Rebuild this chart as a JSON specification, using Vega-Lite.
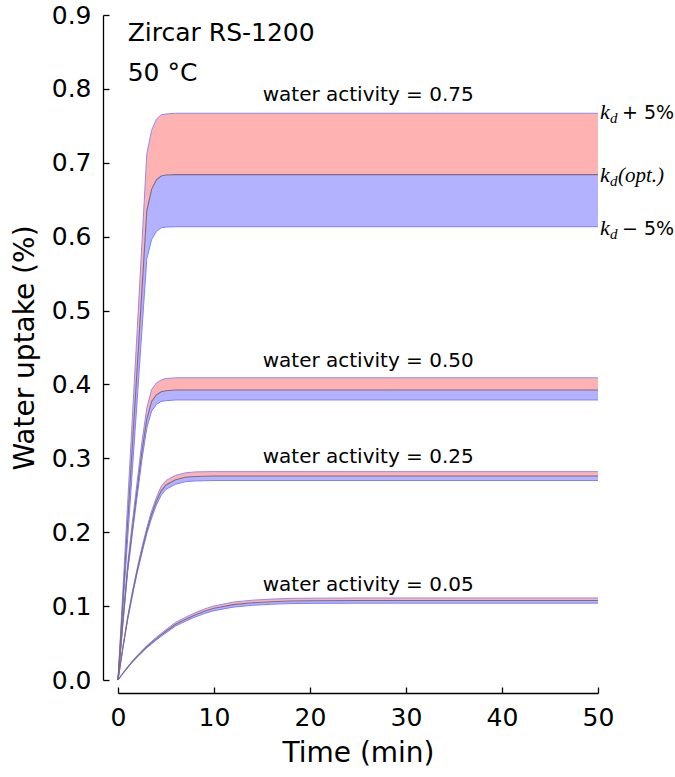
{
  "$schema": "https://vega.github.io/schema/vega-lite/v6.json",
  "width": 480,
  "height": 665,
  "autosize": {"type": "none"},
  "padding": {"left": 118, "top": 15, "right": 77, "bottom": 97},
  "background": "white",
  "datasets": {
    "curves": [
      {"aw": "0.75", "t": 0, "lo": 0, "opt": 0, "hi": 0},
      {"aw": "0.75", "t": 0.5, "lo": 0.095, "opt": 0.106, "hi": 0.119},
      {"aw": "0.75", "t": 1, "lo": 0.190, "opt": 0.212, "hi": 0.238},
      {"aw": "0.75", "t": 1.5, "lo": 0.285, "opt": 0.318, "hi": 0.356},
      {"aw": "0.75", "t": 2, "lo": 0.379, "opt": 0.423, "hi": 0.474},
      {"aw": "0.75", "t": 2.5, "lo": 0.475, "opt": 0.529, "hi": 0.593},
      {"aw": "0.75", "t": 3, "lo": 0.570, "opt": 0.635, "hi": 0.712},
      {"aw": "0.75", "t": 3.5, "lo": 0.596, "opt": 0.664, "hi": 0.744},
      {"aw": "0.75", "t": 4, "lo": 0.607, "opt": 0.677, "hi": 0.759},
      {"aw": "0.75", "t": 4.5, "lo": 0.612, "opt": 0.682, "hi": 0.765},
      {"aw": "0.75", "t": 5, "lo": 0.613, "opt": 0.6835, "hi": 0.766},
      {"aw": "0.75", "t": 6, "lo": 0.6135, "opt": 0.684, "hi": 0.767},
      {"aw": "0.75", "t": 50, "lo": 0.6135, "opt": 0.684, "hi": 0.767},
      {"aw": "0.50", "t": 0, "lo": 0, "opt": 0, "hi": 0},
      {"aw": "0.50", "t": 0.5, "lo": 0.074, "opt": 0.077, "hi": 0.080},
      {"aw": "0.50", "t": 1, "lo": 0.145, "opt": 0.150, "hi": 0.156},
      {"aw": "0.50", "t": 1.5, "lo": 0.198, "opt": 0.205, "hi": 0.214},
      {"aw": "0.50", "t": 2, "lo": 0.249, "opt": 0.258, "hi": 0.269},
      {"aw": "0.50", "t": 2.5, "lo": 0.299, "opt": 0.310, "hi": 0.323},
      {"aw": "0.50", "t": 3, "lo": 0.341, "opt": 0.353, "hi": 0.368},
      {"aw": "0.50", "t": 3.5, "lo": 0.364, "opt": 0.377, "hi": 0.393},
      {"aw": "0.50", "t": 4, "lo": 0.373, "opt": 0.386, "hi": 0.402},
      {"aw": "0.50", "t": 4.5, "lo": 0.377, "opt": 0.390, "hi": 0.406},
      {"aw": "0.50", "t": 5, "lo": 0.378, "opt": 0.3915, "hi": 0.408},
      {"aw": "0.50", "t": 6, "lo": 0.379, "opt": 0.3925, "hi": 0.409},
      {"aw": "0.50", "t": 50, "lo": 0.379, "opt": 0.3925, "hi": 0.409},
      {"aw": "0.25", "t": 0, "lo": 0, "opt": 0, "hi": 0},
      {"aw": "0.25", "t": 0.5, "lo": 0.042, "opt": 0.043, "hi": 0.044},
      {"aw": "0.25", "t": 1, "lo": 0.081, "opt": 0.083, "hi": 0.085},
      {"aw": "0.25", "t": 1.5, "lo": 0.114, "opt": 0.117, "hi": 0.120},
      {"aw": "0.25", "t": 2, "lo": 0.145, "opt": 0.148, "hi": 0.151},
      {"aw": "0.25", "t": 2.5, "lo": 0.172, "opt": 0.176, "hi": 0.180},
      {"aw": "0.25", "t": 3, "lo": 0.198, "opt": 0.202, "hi": 0.206},
      {"aw": "0.25", "t": 3.5, "lo": 0.219, "opt": 0.224, "hi": 0.229},
      {"aw": "0.25", "t": 4, "lo": 0.237, "opt": 0.242, "hi": 0.247},
      {"aw": "0.25", "t": 4.5, "lo": 0.250, "opt": 0.256, "hi": 0.262},
      {"aw": "0.25", "t": 5, "lo": 0.258, "opt": 0.264, "hi": 0.270},
      {"aw": "0.25", "t": 6, "lo": 0.265, "opt": 0.271, "hi": 0.277},
      {"aw": "0.25", "t": 7, "lo": 0.2683, "opt": 0.2743, "hi": 0.2803},
      {"aw": "0.25", "t": 8, "lo": 0.2694, "opt": 0.2755, "hi": 0.2816},
      {"aw": "0.25", "t": 9, "lo": 0.2697, "opt": 0.2758, "hi": 0.2819},
      {"aw": "0.25", "t": 10, "lo": 0.270, "opt": 0.276, "hi": 0.282},
      {"aw": "0.25", "t": 50, "lo": 0.270, "opt": 0.276, "hi": 0.282},
      {"aw": "0.05", "t": 0, "lo": 0, "opt": 0, "hi": 0},
      {"aw": "0.05", "t": 0.5, "lo": 0.0085, "opt": 0.0088, "hi": 0.0091},
      {"aw": "0.05", "t": 1, "lo": 0.0164, "opt": 0.017, "hi": 0.0176},
      {"aw": "0.05", "t": 1.5, "lo": 0.0242, "opt": 0.025, "hi": 0.0258},
      {"aw": "0.05", "t": 2, "lo": 0.0309, "opt": 0.032, "hi": 0.0331},
      {"aw": "0.05", "t": 2.5, "lo": 0.0372, "opt": 0.0385, "hi": 0.0398},
      {"aw": "0.05", "t": 3, "lo": 0.0435, "opt": 0.045, "hi": 0.0465},
      {"aw": "0.05", "t": 3.5, "lo": 0.0488, "opt": 0.0505, "hi": 0.0522},
      {"aw": "0.05", "t": 4, "lo": 0.0542, "opt": 0.056, "hi": 0.0578},
      {"aw": "0.05", "t": 4.5, "lo": 0.059, "opt": 0.061, "hi": 0.063},
      {"aw": "0.05", "t": 5, "lo": 0.0638, "opt": 0.066, "hi": 0.0682},
      {"aw": "0.05", "t": 6, "lo": 0.073, "opt": 0.0755, "hi": 0.078},
      {"aw": "0.05", "t": 7, "lo": 0.0793, "opt": 0.082, "hi": 0.0847},
      {"aw": "0.05", "t": 8, "lo": 0.0851, "opt": 0.088, "hi": 0.0909},
      {"aw": "0.05", "t": 9, "lo": 0.0899, "opt": 0.093, "hi": 0.0961},
      {"aw": "0.05", "t": 10, "lo": 0.0938, "opt": 0.097, "hi": 0.1002},
      {"aw": "0.05", "t": 12, "lo": 0.0986, "opt": 0.102, "hi": 0.1054},
      {"aw": "0.05", "t": 14, "lo": 0.1011, "opt": 0.1045, "hi": 0.108},
      {"aw": "0.05", "t": 16, "lo": 0.1025, "opt": 0.106, "hi": 0.1095},
      {"aw": "0.05", "t": 18, "lo": 0.1035, "opt": 0.107, "hi": 0.1105},
      {"aw": "0.05", "t": 20, "lo": 0.1037, "opt": 0.1072, "hi": 0.1107},
      {"aw": "0.05", "t": 25, "lo": 0.104, "opt": 0.1075, "hi": 0.111},
      {"aw": "0.05", "t": 30, "lo": 0.104, "opt": 0.1075, "hi": 0.111},
      {"aw": "0.05", "t": 50, "lo": 0.104, "opt": 0.1075, "hi": 0.111}
    ],
    "awlabels": [
      {"x": 15.07, "y": 0.7836, "label": "water activity = 0.75"},
      {"x": 15.07, "y": 0.4232, "label": "water activity = 0.50"},
      {"x": 15.07, "y": 0.2941, "label": "water activity = 0.25"},
      {"x": 15.07, "y": 0.1209, "label": "water activity = 0.05"}
    ],
    "titles": [
      {"x": 1.01, "y": 0.8652, "label": "Zircar RS-1200"},
      {"x": 1.01, "y": 0.811, "label": "50 °C"}
    ],
    "kd": [
      {"x": 50, "y": 0.7588, "rest": "+ 5%", "kind": "pm"},
      {"x": 50, "y": 0.6744, "rest": "(opt.)", "kind": "opt"},
      {"x": 50, "y": 0.6022, "rest": "− 5%", "kind": "pm"}
    ]
  },
  "config": {
    "view": {"stroke": null},
    "font": "DejaVu Sans",
    "axis": {
      "grid": false,
      "domainColor": "#000000",
      "domainWidth": 1.3,
      "tickColor": "#000000",
      "tickWidth": 1.3,
      "tickSize": -6,
      "labelFont": "DejaVu Sans",
      "labelFontSize": 25,
      "labelColor": "#000000",
      "titleFont": "DejaVu Sans",
      "titleFontSize": 28,
      "titleFontWeight": "normal",
      "titleColor": "#000000",
      "labelFlush": false
    },
    "axisX": {"offset": 13, "labelPadding": 18, "titlePadding": 9},
    "axisY": {"offset": 15, "labelPadding": 18, "titlePadding": 12}
  },
  "layer": [
    {
      "data": {"name": "curves"},
      "mark": {"type": "area", "color": "#ffb2b2", "opacity": 1},
      "encoding": {
        "x": {"field": "t", "type": "quantitative", "title": "Time (min)", "scale": {"domain": [0, 50], "nice": false}, "axis": {"values": [0, 10, 20, 30, 40, 50]}},
        "y": {"field": "opt", "type": "quantitative", "title": "Water uptake (%)", "scale": {"domain": [0, 0.9], "nice": false, "zero": false}, "axis": {"values": [0, 0.1, 0.2, 0.3, 0.4, 0.5, 0.6, 0.7, 0.8, 0.9], "format": ".1f"}},
        "y2": {"field": "hi"},
        "detail": {"field": "aw"}
      }
    },
    {
      "data": {"name": "curves"},
      "mark": {"type": "area", "color": "#b2b2ff", "opacity": 1},
      "encoding": {
        "x": {"field": "t", "type": "quantitative", "title": "Time (min)", "scale": {"domain": [0, 50], "nice": false}},
        "y": {"field": "lo", "type": "quantitative", "title": "Water uptake (%)", "scale": {"domain": [0, 0.9], "nice": false, "zero": false}},
        "y2": {"field": "opt"},
        "detail": {"field": "aw"}
      }
    },
    {
      "data": {"name": "curves"},
      "mark": {"type": "line", "color": "#8c8cff", "strokeWidth": 1},
      "encoding": {
        "x": {"field": "t", "type": "quantitative", "title": "Time (min)", "scale": {"domain": [0, 50], "nice": false}},
        "y": {"field": "hi", "type": "quantitative", "title": "Water uptake (%)", "scale": {"domain": [0, 0.9], "nice": false, "zero": false}},
        "detail": {"field": "aw"}
      }
    },
    {
      "data": {"name": "curves"},
      "mark": {"type": "line", "color": "#8080ff", "strokeWidth": 1},
      "encoding": {
        "x": {"field": "t", "type": "quantitative", "title": "Time (min)", "scale": {"domain": [0, 50], "nice": false}},
        "y": {"field": "lo", "type": "quantitative", "title": "Water uptake (%)", "scale": {"domain": [0, 0.9], "nice": false, "zero": false}},
        "detail": {"field": "aw"}
      }
    },
    {
      "data": {"name": "curves"},
      "mark": {"type": "line", "color": "#7d6b80", "strokeWidth": 1.1},
      "encoding": {
        "x": {"field": "t", "type": "quantitative", "title": "Time (min)", "scale": {"domain": [0, 50], "nice": false}},
        "y": {"field": "opt", "type": "quantitative", "title": "Water uptake (%)", "scale": {"domain": [0, 0.9], "nice": false, "zero": false}},
        "detail": {"field": "aw"}
      }
    },
    {
      "data": {"name": "awlabels"},
      "mark": {"type": "text", "align": "left", "baseline": "alphabetic", "fontSize": 20, "font": "DejaVu Sans", "color": "#000000"},
      "encoding": {
        "x": {"field": "x", "type": "quantitative", "title": "Time (min)", "scale": {"domain": [0, 50], "nice": false}},
        "y": {"field": "y", "type": "quantitative", "title": "Water uptake (%)", "scale": {"domain": [0, 0.9], "nice": false, "zero": false}},
        "text": {"field": "label"}
      }
    },
    {
      "data": {"name": "titles"},
      "mark": {"type": "text", "align": "left", "baseline": "alphabetic", "fontSize": 25, "font": "DejaVu Sans", "color": "#000000"},
      "encoding": {
        "x": {"field": "x", "type": "quantitative", "title": "Time (min)", "scale": {"domain": [0, 50], "nice": false}},
        "y": {"field": "y", "type": "quantitative", "title": "Water uptake (%)", "scale": {"domain": [0, 0.9], "nice": false, "zero": false}},
        "text": {"field": "label"}
      }
    },
    {
      "data": {"name": "kd"},
      "mark": {"type": "text", "align": "left", "baseline": "alphabetic", "fontSize": 22, "font": "Liberation Serif", "fontStyle": "italic", "color": "#000000", "dx": 2},
      "encoding": {
        "x": {"field": "x", "type": "quantitative", "title": "Time (min)", "scale": {"domain": [0, 50], "nice": false}},
        "y": {"field": "y", "type": "quantitative", "title": "Water uptake (%)", "scale": {"domain": [0, 0.9], "nice": false, "zero": false}},
        "text": {"value": "k"}
      }
    },
    {
      "data": {"name": "kd"},
      "mark": {"type": "text", "align": "left", "baseline": "alphabetic", "fontSize": 15, "font": "Liberation Serif", "fontStyle": "italic", "color": "#000000", "dx": 12, "dy": 4},
      "encoding": {
        "x": {"field": "x", "type": "quantitative", "title": "Time (min)", "scale": {"domain": [0, 50], "nice": false}},
        "y": {"field": "y", "type": "quantitative", "title": "Water uptake (%)", "scale": {"domain": [0, 0.9], "nice": false, "zero": false}},
        "text": {"value": "d"}
      }
    },
    {
      "data": {"name": "kd"},
      "transform": [{"filter": "datum.kind == 'pm'"}],
      "mark": {"type": "text", "align": "left", "baseline": "alphabetic", "fontSize": 19, "font": "DejaVu Sans", "color": "#000000", "dx": 24},
      "encoding": {
        "x": {"field": "x", "type": "quantitative", "title": "Time (min)", "scale": {"domain": [0, 50], "nice": false}},
        "y": {"field": "y", "type": "quantitative", "title": "Water uptake (%)", "scale": {"domain": [0, 0.9], "nice": false, "zero": false}},
        "text": {"field": "rest"}
      }
    },
    {
      "data": {"name": "kd"},
      "transform": [{"filter": "datum.kind == 'opt'"}],
      "mark": {"type": "text", "align": "left", "baseline": "alphabetic", "fontSize": 21, "font": "Liberation Serif", "fontStyle": "italic", "color": "#000000", "dx": 20},
      "encoding": {
        "x": {"field": "x", "type": "quantitative", "title": "Time (min)", "scale": {"domain": [0, 50], "nice": false}},
        "y": {"field": "y", "type": "quantitative", "title": "Water uptake (%)", "scale": {"domain": [0, 0.9], "nice": false, "zero": false}},
        "text": {"field": "rest"}
      }
    }
  ]
}
